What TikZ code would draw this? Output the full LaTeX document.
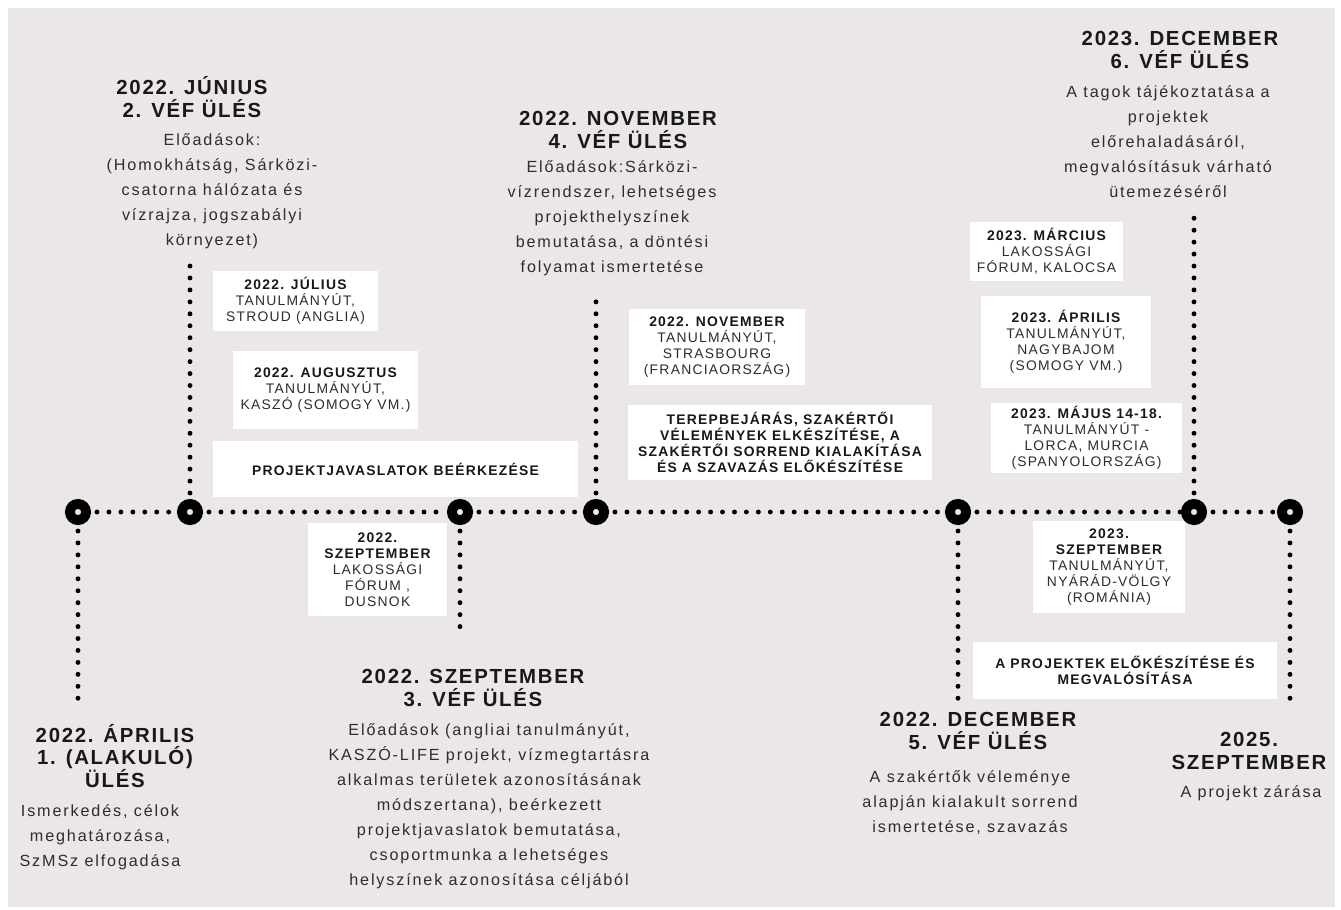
\documentclass[tikz,border=0pt]{standalone}
\usepackage{fontspec}
\setmainfont{Liberation Sans}
\newfontfamily\headfont{Liberation Sans}[LetterSpace=8.5]
\newfontfamily\bodyfont{Liberation Sans}[LetterSpace=11.5]
\newfontfamily\boxfont{Liberation Sans}[LetterSpace=9]

\definecolor{bggray}{RGB}{235,231,230}
\definecolor{headcol}{RGB}{24,24,24}
\definecolor{bodycol}{RGB}{45,45,45}

\tikzset{
    ring/.style={circle, draw=black, fill=bggray, line width=5.6pt, inner sep=0pt, minimum size=9.2pt},
    dotline/.style={line width=2.8pt, line cap=round, dash pattern=on 0pt off 6.8pt, dash phase=3.4pt},
    headtext/.style={align=center, inner sep=0pt, text=headcol, font=\headfont\bfseries\fontsize{11.6}{13}\selectfont},
    bodytext/.style={align=center, inner sep=0pt, text=bodycol, font=\bodyfont\fontsize{9.2}{14.2}\selectfont},
    infobox/.style={fill=white, align=center, inner sep=0pt, text=bodycol, font=\boxfont\fontsize{7.9}{9.1}\selectfont}
}
\newcommand{\boxhead}[1]{{\bfseries\color{headcol}#1}}

\begin{document}
\begin{tikzpicture}[x=0.02cm, y=-0.02cm]
        \useasboundingbox (0,0) rectangle (1341,909);
        \fill[white] (0,0) rectangle (1341,909);
        \fill[bggray] (8,8) rectangle (1335,907);

        % timeline points
        \node[ring] (n1) at (78,512) {};
        \node[ring] (n2) at (190,512) {};
        \node[ring] (n3) at (460,512) {};
        \node[ring] (n4) at (596,512) {};
        \node[ring] (n5) at (958,512) {};
        \node[ring] (n6) at (1194,512) {};
        \node[ring] (n7) at (1290,512) {};

        % ends of the vertical lines
        \coordinate (e1) at (78,701);
        \coordinate (e2) at (190,263);
        \coordinate (e3) at (460,638);
        \coordinate (e4) at (596,300);
        \coordinate (e5) at (958,700);
        \coordinate (e6) at (1194,215);
        \coordinate (e7) at (1290,700);

        \foreach \a/\b in {n1/n2, n2/n3, n3/n4, n4/n5, n5/n6, n6/n7}
            \draw[dotline] (\a) -- (\b);
        \foreach \i in {1,...,7}
            \draw[dotline] (n\i) -- (e\i);

        % meetings
        \node[headtext] (h1) at (115,756) {2022. ÁPRILIS\\ 1. (ALAKULÓ)\\ ÜLÉS};
        \node[bodytext] (b1) at (100,837) {Ismerkedés, célok\\ meghatározása,\\ SzMSz elfogadása};

        \node[headtext] (h2) at (192,97) {2022. JÚNIUS\\ 2. VÉF ÜLÉS};
        \node[bodytext] (b2) at (212,191) {Előadások:\\ (Homokhátság, Sárközi-\\ csatorna hálózata és\\ vízrajza, jogszabályi\\ környezet)};

        \node[headtext] (h3) at (473,688) {2022. SZEPTEMBER\\ 3. VÉF ÜLÉS};
        \node[bodytext] (b3) at (489,806) {Előadások (angliai tanulmányút,\\ KASZÓ-LIFE projekt, vízmegtartásra\\ alkalmas területek azonosításának\\ módszertana), beérkezett\\ projektjavaslatok bemutatása,\\ csoportmunka a lehetséges\\ helyszínek azonosítása céljából};

        \node[headtext] (h4) at (618,130) {2022. NOVEMBER\\ 4. VÉF ÜLÉS};
        \node[bodytext] (b4) at (612,218) {Előadások:Sárközi-\\ vízrendszer, lehetséges\\ projekthelyszínek\\ bemutatása, a döntési\\ folyamat ismertetése};

        \node[headtext] (h5) at (978,731) {2022. DECEMBER\\ 5. VÉF ÜLÉS};
        \node[bodytext] (b5) at (970,803) {A szakértők véleménye\\ alapján kialakult sorrend\\ ismertetése, szavazás};

        \node[headtext] (h6) at (1180,50) {2023. DECEMBER\\ 6. VÉF ÜLÉS};
        \node[bodytext] (b6) at (1168,142) {A tagok tájékoztatása a\\ projektek\\ előrehaladásáról,\\ megvalósításuk várható\\ ütemezéséről};

        \node[headtext] (h7) at (1249,751) {2025.\\ SZEPTEMBER};
        \node[bodytext] (b7) at (1251,793) {A projekt zárása};

        % white boxes
        \node[infobox, minimum width=3.3cm, minimum height=1.2cm] (jul) at (295.5,301) {\boxhead{2022. JÚLIUS}\\ TANULMÁNYÚT,\\ STROUD (ANGLIA)};
        \node[infobox, minimum width=3.7cm, minimum height=1.56cm] (aug) at (325.5,390) {\boxhead{2022. AUGUSZTUS}\\ TANULMÁNYÚT,\\ KASZÓ (SOMOGY VM.)};
        \node[infobox, minimum width=7.3cm, minimum height=1.12cm] (javas) at (395.5,469) {\boxhead{PROJEKTJAVASLATOK BEÉRKEZÉSE}};
        \node[infobox, minimum width=2.78cm, minimum height=1.86cm] (szept22) at (377.5,569.5) {\boxhead{2022.}\\ \boxhead{SZEPTEMBER}\\ LAKOSSÁGI\\ FÓRUM ,\\ DUSNOK};
        \node[infobox, minimum width=3.52cm, minimum height=1.52cm] (nov) at (717,347) {\boxhead{2022. NOVEMBER}\\ TANULMÁNYÚT,\\ STRASBOURG\\ (FRANCIAORSZÁG)};
        \node[infobox, minimum width=6.08cm, minimum height=1.5cm] (terep) at (780,442.5) {\boxhead{TEREPBEJÁRÁS, SZAKÉRTŐI}\\ \boxhead{VÉLEMÉNYEK ELKÉSZÍTÉSE, A}\\ \boxhead{SZAKÉRTŐI SORREND KIALAKÍTÁSA}\\ \boxhead{ÉS A SZAVAZÁS ELŐKÉSZÍTÉSE}};
        \node[infobox, minimum width=3.06cm, minimum height=1.18cm] (marc) at (1046.5,251.5) {\boxhead{2023. MÁRCIUS}\\ LAKOSSÁGI\\ FÓRUM, KALOCSA};
        \node[infobox, minimum width=3.4cm, minimum height=1.84cm] (apr) at (1066,342) {\boxhead{2023. ÁPRILIS}\\ TANULMÁNYÚT,\\ NAGYBAJOM\\ (SOMOGY VM.)};
        \node[infobox, minimum width=3.82cm, minimum height=1.4cm] (maj) at (1086.5,438) {\boxhead{2023. MÁJUS 14-18.}\\ TANULMÁNYÚT -\\ LORCA, MURCIA\\ (SPANYOLORSZÁG)};
        \node[infobox, minimum width=3.04cm, minimum height=1.84cm] (szept23) at (1109,567) {\boxhead{2023.}\\ \boxhead{SZEPTEMBER}\\ TANULMÁNYÚT,\\ NYÁRÁD-VÖLGY\\ (ROMÁNIA)};
        \node[infobox, minimum width=6.08cm, minimum height=1.14cm] (megval) at (1125,670.5) {\boxhead{A PROJEKTEK ELŐKÉSZÍTÉSE ÉS}\\ \boxhead{MEGVALÓSÍTÁSA}};
\end{tikzpicture}
\end{document}
